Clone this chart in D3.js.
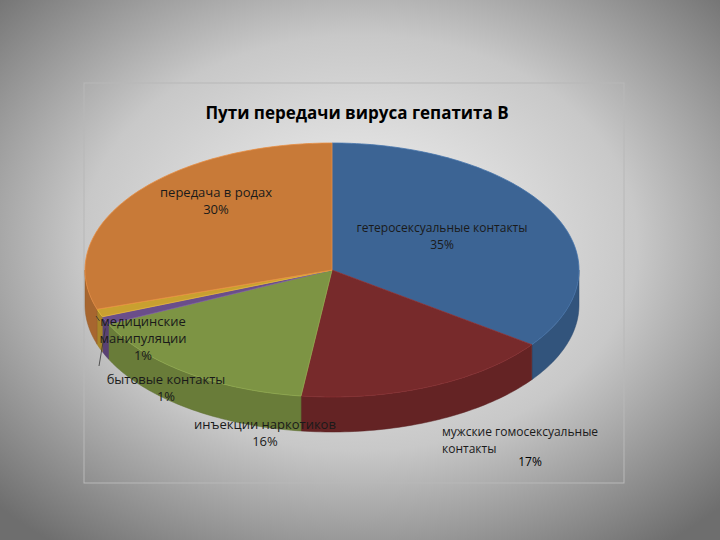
<!DOCTYPE html>
<html><head><meta charset="utf-8">
<script src="https://cdn.jsdelivr.net/npm/d3@7"></script>
<style>body{margin:0}svg{display:block}text{font-family:"Open Sans",sans-serif}</style>
</head><body><svg width="720" height="540"></svg>
<script>
const categories = ["гетеросексуальные контакты", "мужские гомосексуальные контакты", "инъекции наркотиков", "бытовые контакты", "медицинские манипуляции", "передача в родах"];
const values = [35, 17, 16, 1, 1, 30];
const colors = ["#3c6494", "#772a2b", "#7d9444", "#6a4e8a", "#c9a030", "#c87a38"];

const svg = d3.select("svg");
const defs = svg.append("defs");
const bg = defs.append("radialGradient").attr("id", "bg").attr("cx", "50%").attr("cy", "45%").attr("r", "70%");
bg.append("stop").attr("offset", "0%").attr("stop-color", "#f4f4f4");
bg.append("stop").attr("offset", "55%").attr("stop-color", "#c8c8c8");
bg.append("stop").attr("offset", "100%").attr("stop-color", "#6e6e6e");
svg.append("rect").attr("width", 720).attr("height", 540).attr("fill", "url(#bg)");
svg.append("rect").attr("x", 84).attr("y", 83).attr("width", 540).attr("height", 400)
  .attr("fill", "none").attr("stroke", "#b8b8b8").attr("stroke-width", 1);

svg.append("text").attr("x", 357).attr("y", 119).attr("text-anchor", "middle")
  .attr("font-size", 17).attr("font-weight", "bold").text("Пути передачи вируса гепатита В");

const cx = 332, cy = 270, rx = 247, ry = 127, depth = 35;
const pie = d3.pie().sort(null).value(d => d)(values);
const pt = (a, dy = 0) => [cx + rx * Math.sin(a), cy - ry * Math.cos(a) + dy];

function arcPts(a0, a1, dy) {
  const n = Math.max(2, Math.ceil((a1 - a0) / 0.02));
  return d3.range(n + 1).map(i => pt(a0 + (a1 - a0) * i / n, dy));
}
const line = d3.line();

// side walls (front half only)
pie.forEach((s, i) => {
  const a0 = Math.max(s.startAngle, Math.PI / 2), a1 = Math.min(s.endAngle, 3 * Math.PI / 2);
  if (a1 <= a0) return;
  const top = arcPts(a0, a1, 0), bot = arcPts(a0, a1, depth).reverse();
  svg.append("path").attr("d", line(top.concat(bot)) + "Z")
    .attr("fill", d3.color(colors[i]).darker(0.5)).attr("stroke", d3.color(colors[i]).darker(0.8)).attr("stroke-width", 0.5);
});
// tops
pie.forEach((s, i) => {
  const pts = [[cx, cy]].concat(arcPts(s.startAngle, s.endAngle, 0));
  svg.append("path").attr("d", line(pts) + "Z").attr("fill", colors[i])
    .attr("stroke", d3.color(colors[i]).brighter(0.4)).attr("stroke-width", 0.8);
});

// leader lines for small slices
const lead = [[3, [99, 366]], [4, [96, 316]]];
lead.forEach(([i, p]) => {
  const m = (pie[i].startAngle + pie[i].endAngle) / 2;
  svg.append("path").attr("d", line([pt(m, 8), p])).attr("stroke", "#333").attr("stroke-width", 0.8).attr("fill", "none");
});

// labels
const labels = [
  {lines: ["гетеросексуальные контакты", "35%"], x: 442, y: 232, size: 12},
  {lines: ["мужские гомосексуальные", "контакты"], x: 442, y: 436, size: 12, anchor: "start", pct: "17%", px: 530, py: 466},
  {lines: ["инъекции наркотиков", "16%"], x: 265, y: 429, size: 13},
  {lines: ["бытовые контакты", "1%"], x: 166, y: 384, size: 13},
  {lines: ["медицинские", "манипуляции", "1%"], x: 143, y: 326, size: 13},
  {lines: ["передача в родах", "30%"], x: 216, y: 197, size: 13}
];
labels.forEach(l => {
  const t = svg.append("text").attr("font-size", l.size).attr("fill", "#1a1a1a")
    .attr("text-anchor", l.anchor || "middle");
  l.lines.forEach((s, j) => t.append("tspan").attr("x", l.x).attr("y", l.y + j * 17).text(s));
  if (l.pct) svg.append("text").attr("font-size", l.size).attr("x", l.px).attr("y", l.py).attr("text-anchor", "middle").text(l.pct);
});
</script></body></html>
